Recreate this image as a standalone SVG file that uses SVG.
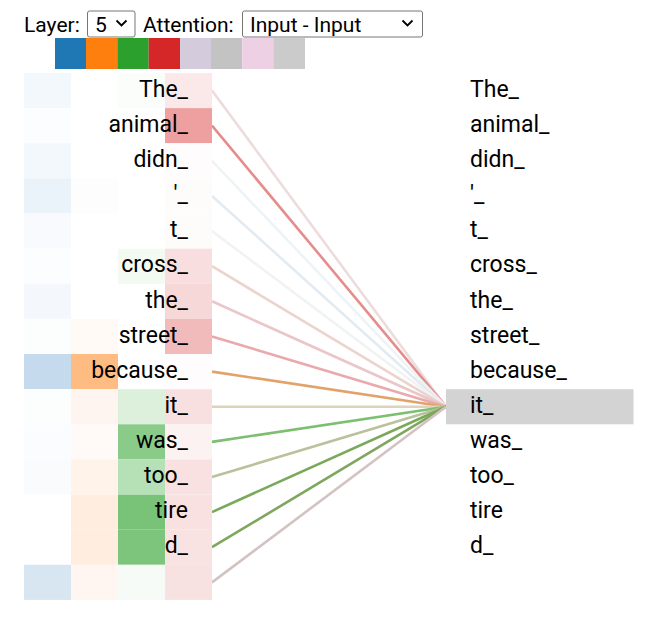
<svg xmlns="http://www.w3.org/2000/svg" width="662" height="619" viewBox="0 0 662 619">
<style>
text{font-family:Roboto,"Liberation Sans",sans-serif;fill:#000}
.tok{font-size:23px}
.hdr{font-size:21px}
.l{text-anchor:end}
.sel{fill:#fff;stroke:#767676;stroke-width:1}
.chev{fill:none;stroke:#000;stroke-width:1.8}
#connectors line{stroke-width:2.6;fill:none}
</style>
<rect width="662" height="619" fill="#fff"/>
<g id="header">
<text class="hdr" x="24" y="31.5">Layer:</text>
<rect class="sel" x="87.5" y="11" width="47.5" height="26" rx="2"/>
<text class="hdr" x="95" y="31.5">5</text>
<path class="chev" d="M116.5 20.5 L121.5 25.5 L126.5 20.5"/>
<text class="hdr" x="143" y="31.5">Attention:</text>
<rect class="sel" x="242.5" y="11" width="180" height="26" rx="2"/>
<text class="hdr" x="250" y="31.5">Input - Input</text>
<path class="chev" d="M402.5 20.5 L407.5 25.5 L412.5 20.5"/>
</g>
<g id="heads">
<rect x="55" y="38" width="31" height="31" fill="#1f77b4"/>
<rect x="86" y="38" width="31.3" height="31" fill="#ff7f0e"/>
<rect x="117.3" y="38" width="31.4" height="31" fill="#2ca02c"/>
<rect x="148.7" y="38" width="31.3" height="31" fill="#d62728"/>
<rect x="180" y="38" width="31" height="31" fill="#d4cbdc"/>
<rect x="211" y="38" width="31.3" height="31" fill="#c3c3c3"/>
<rect x="242.3" y="38" width="31" height="31" fill="#edd0e4"/>
<rect x="273.3" y="38" width="31.7" height="31" fill="#cbcbcb"/>
</g>
<g id="connectors">
<line x1="212" y1="90.6" x2="446" y2="406.7" stroke="#eddcdc"/>
<line x1="212" y1="125.7" x2="446" y2="406.7" stroke="#e58c8c"/>
<line x1="212" y1="160.8" x2="446" y2="406.7" stroke="#eef3f5"/>
<line x1="212" y1="196.0" x2="446" y2="406.7" stroke="#e2eaf2"/>
<line x1="212" y1="231.1" x2="446" y2="406.7" stroke="#f1f3f3"/>
<line x1="212" y1="266.2" x2="446" y2="406.7" stroke="#ecd3cc"/>
<line x1="212" y1="301.3" x2="446" y2="406.7" stroke="#eac6c9"/>
<line x1="212" y1="336.5" x2="446" y2="406.7" stroke="#eaa9ad"/>
<line x1="212" y1="371.6" x2="446" y2="406.7" stroke="#e2a36a"/>
<line x1="212" y1="406.7" x2="446" y2="406.7" stroke="#ddd4bc"/>
<line x1="212" y1="441.9" x2="446" y2="406.7" stroke="#7dbf71"/>
<line x1="212" y1="477.0" x2="446" y2="406.7" stroke="#b9c29d"/>
<line x1="212" y1="512.1" x2="446" y2="406.7" stroke="#7aa95b"/>
<line x1="212" y1="547.2" x2="446" y2="406.7" stroke="#7fa65f"/>
<line x1="212" y1="582.4" x2="446" y2="406.7" stroke="#d4c2c2"/>
</g>
<g id="left-0"><rect x="24" y="73" width="47" height="35.1" fill="#f3f8fd"/><rect x="118" y="73" width="47" height="35.1" fill="#fbfdfb"/><rect x="165" y="73" width="47" height="35.1" fill="#fbe9e9"/><text class="tok l" x="188" y="96.7">The_</text></g>
<g id="left-1"><rect x="24" y="108.1" width="47" height="35.1" fill="#fbfdff"/><rect x="165" y="108.1" width="47" height="35.1" fill="#eea0a0"/><text class="tok l" x="188" y="131.8">animal_</text></g>
<g id="left-2"><rect x="24" y="143.3" width="47" height="35.1" fill="#f3f8fd"/><rect x="165" y="143.3" width="47" height="35.1" fill="#fefcfc"/><text class="tok l" x="188" y="167">didn_</text></g>
<g id="left-3"><rect x="24" y="178.4" width="47" height="35.1" fill="#eaf2fa"/><rect x="71" y="178.4" width="47" height="35.1" fill="#fdfdfd"/><rect x="165" y="178.4" width="47" height="35.1" fill="#fefbfb"/><text class="tok l" x="188" y="202.1">'_</text></g>
<g id="left-4"><rect x="24" y="213.5" width="47" height="35.1" fill="#f8fafd"/><rect x="165" y="213.5" width="47" height="35.1" fill="#fefbfb"/><text class="tok l" x="188" y="237.2">t_</text></g>
<g id="left-5"><rect x="24" y="248.7" width="47" height="35.1" fill="#fcfdfe"/><rect x="118" y="248.7" width="47" height="35.1" fill="#f3faf2"/><rect x="165" y="248.7" width="47" height="35.1" fill="#f8dede"/><text class="tok l" x="188" y="272.4">cross_</text></g>
<g id="left-6"><rect x="24" y="283.8" width="47" height="35.1" fill="#f4f8fd"/><rect x="165" y="283.8" width="47" height="35.1" fill="#f6d8d8"/><text class="tok l" x="188" y="307.5">the_</text></g>
<g id="left-7"><rect x="24" y="318.9" width="47" height="35.1" fill="#fcfefe"/><rect x="71" y="318.9" width="47" height="35.1" fill="#fffaf6"/><rect x="165" y="318.9" width="47" height="35.1" fill="#f1babb"/><text class="tok l" x="188" y="342.6">street_</text></g>
<g id="left-8"><rect x="24" y="354" width="47" height="35.1" fill="#c5dbed"/><rect x="71" y="354" width="47" height="35.1" fill="#febb82"/><rect x="165" y="354" width="47" height="35.1" fill="#fefcfd"/><text class="tok l" x="188" y="377.7">because_</text></g>
<g id="left-9"><rect x="24" y="389.2" width="47" height="35.1" fill="#fcfefe"/><rect x="71" y="389.2" width="47" height="35.1" fill="#fff5f0"/><rect x="118" y="389.2" width="47" height="35.1" fill="#ddf0dc"/><rect x="165" y="389.2" width="47" height="35.1" fill="#f9e0e0"/><text class="tok l" x="188" y="412.9">it_</text></g>
<g id="left-10"><rect x="24" y="424.3" width="47" height="35.1" fill="#fbfcff"/><rect x="71" y="424.3" width="47" height="35.1" fill="#fffaf8"/><rect x="118" y="424.3" width="47" height="35.1" fill="#8acb89"/><rect x="165" y="424.3" width="47" height="35.1" fill="#fcf2f2"/><text class="tok l" x="188" y="448">was_</text></g>
<g id="left-11"><rect x="24" y="459.4" width="47" height="35.1" fill="#f9fbfd"/><rect x="71" y="459.4" width="47" height="35.1" fill="#fff3ea"/><rect x="118" y="459.4" width="47" height="35.1" fill="#b6e0b5"/><rect x="165" y="459.4" width="47" height="35.1" fill="#f9e1e1"/><text class="tok l" x="188" y="483.1">too_</text></g>
<g id="left-12"><rect x="71" y="494.6" width="47" height="35.1" fill="#ffeee0"/><rect x="118" y="494.6" width="47" height="35.1" fill="#78c377"/><rect x="165" y="494.6" width="47" height="35.1" fill="#f9e1e1"/><text class="tok l" x="188" y="518.3">tire</text></g>
<g id="left-13"><rect x="71" y="529.7" width="47" height="35.1" fill="#ffeee0"/><rect x="118" y="529.7" width="47" height="35.1" fill="#7dc57c"/><rect x="165" y="529.7" width="47" height="35.1" fill="#f9e2e2"/><text class="tok l" x="188" y="553.4">d_</text></g>
<g id="left-14"><rect x="24" y="564.8" width="47" height="35.1" fill="#d7e6f1"/><rect x="71" y="564.8" width="47" height="35.1" fill="#fff6f1"/><rect x="118" y="564.8" width="47" height="35.1" fill="#f7fbf7"/><rect x="165" y="564.8" width="47" height="35.1" fill="#f8e1e1"/></g>
<g id="right-0"><text class="tok" x="470" y="96.7">The_</text></g>
<g id="right-1"><text class="tok" x="470" y="131.8">animal_</text></g>
<g id="right-2"><text class="tok" x="470" y="167">didn_</text></g>
<g id="right-3"><text class="tok" x="470" y="202.1">'_</text></g>
<g id="right-4"><text class="tok" x="470" y="237.2">t_</text></g>
<g id="right-5"><text class="tok" x="470" y="272.4">cross_</text></g>
<g id="right-6"><text class="tok" x="470" y="307.5">the_</text></g>
<g id="right-7"><text class="tok" x="470" y="342.6">street_</text></g>
<g id="right-8"><text class="tok" x="470" y="377.7">because_</text></g>
<g id="right-9"><rect x="446" y="389.2" width="187.5" height="35.1" fill="#d3d3d3"/><text class="tok" x="470" y="412.9">it_</text></g>
<g id="right-10"><text class="tok" x="470" y="448">was_</text></g>
<g id="right-11"><text class="tok" x="470" y="483.1">too_</text></g>
<g id="right-12"><text class="tok" x="470" y="518.3">tire</text></g>
<g id="right-13"><text class="tok" x="470" y="553.4">d_</text></g>
</svg>
